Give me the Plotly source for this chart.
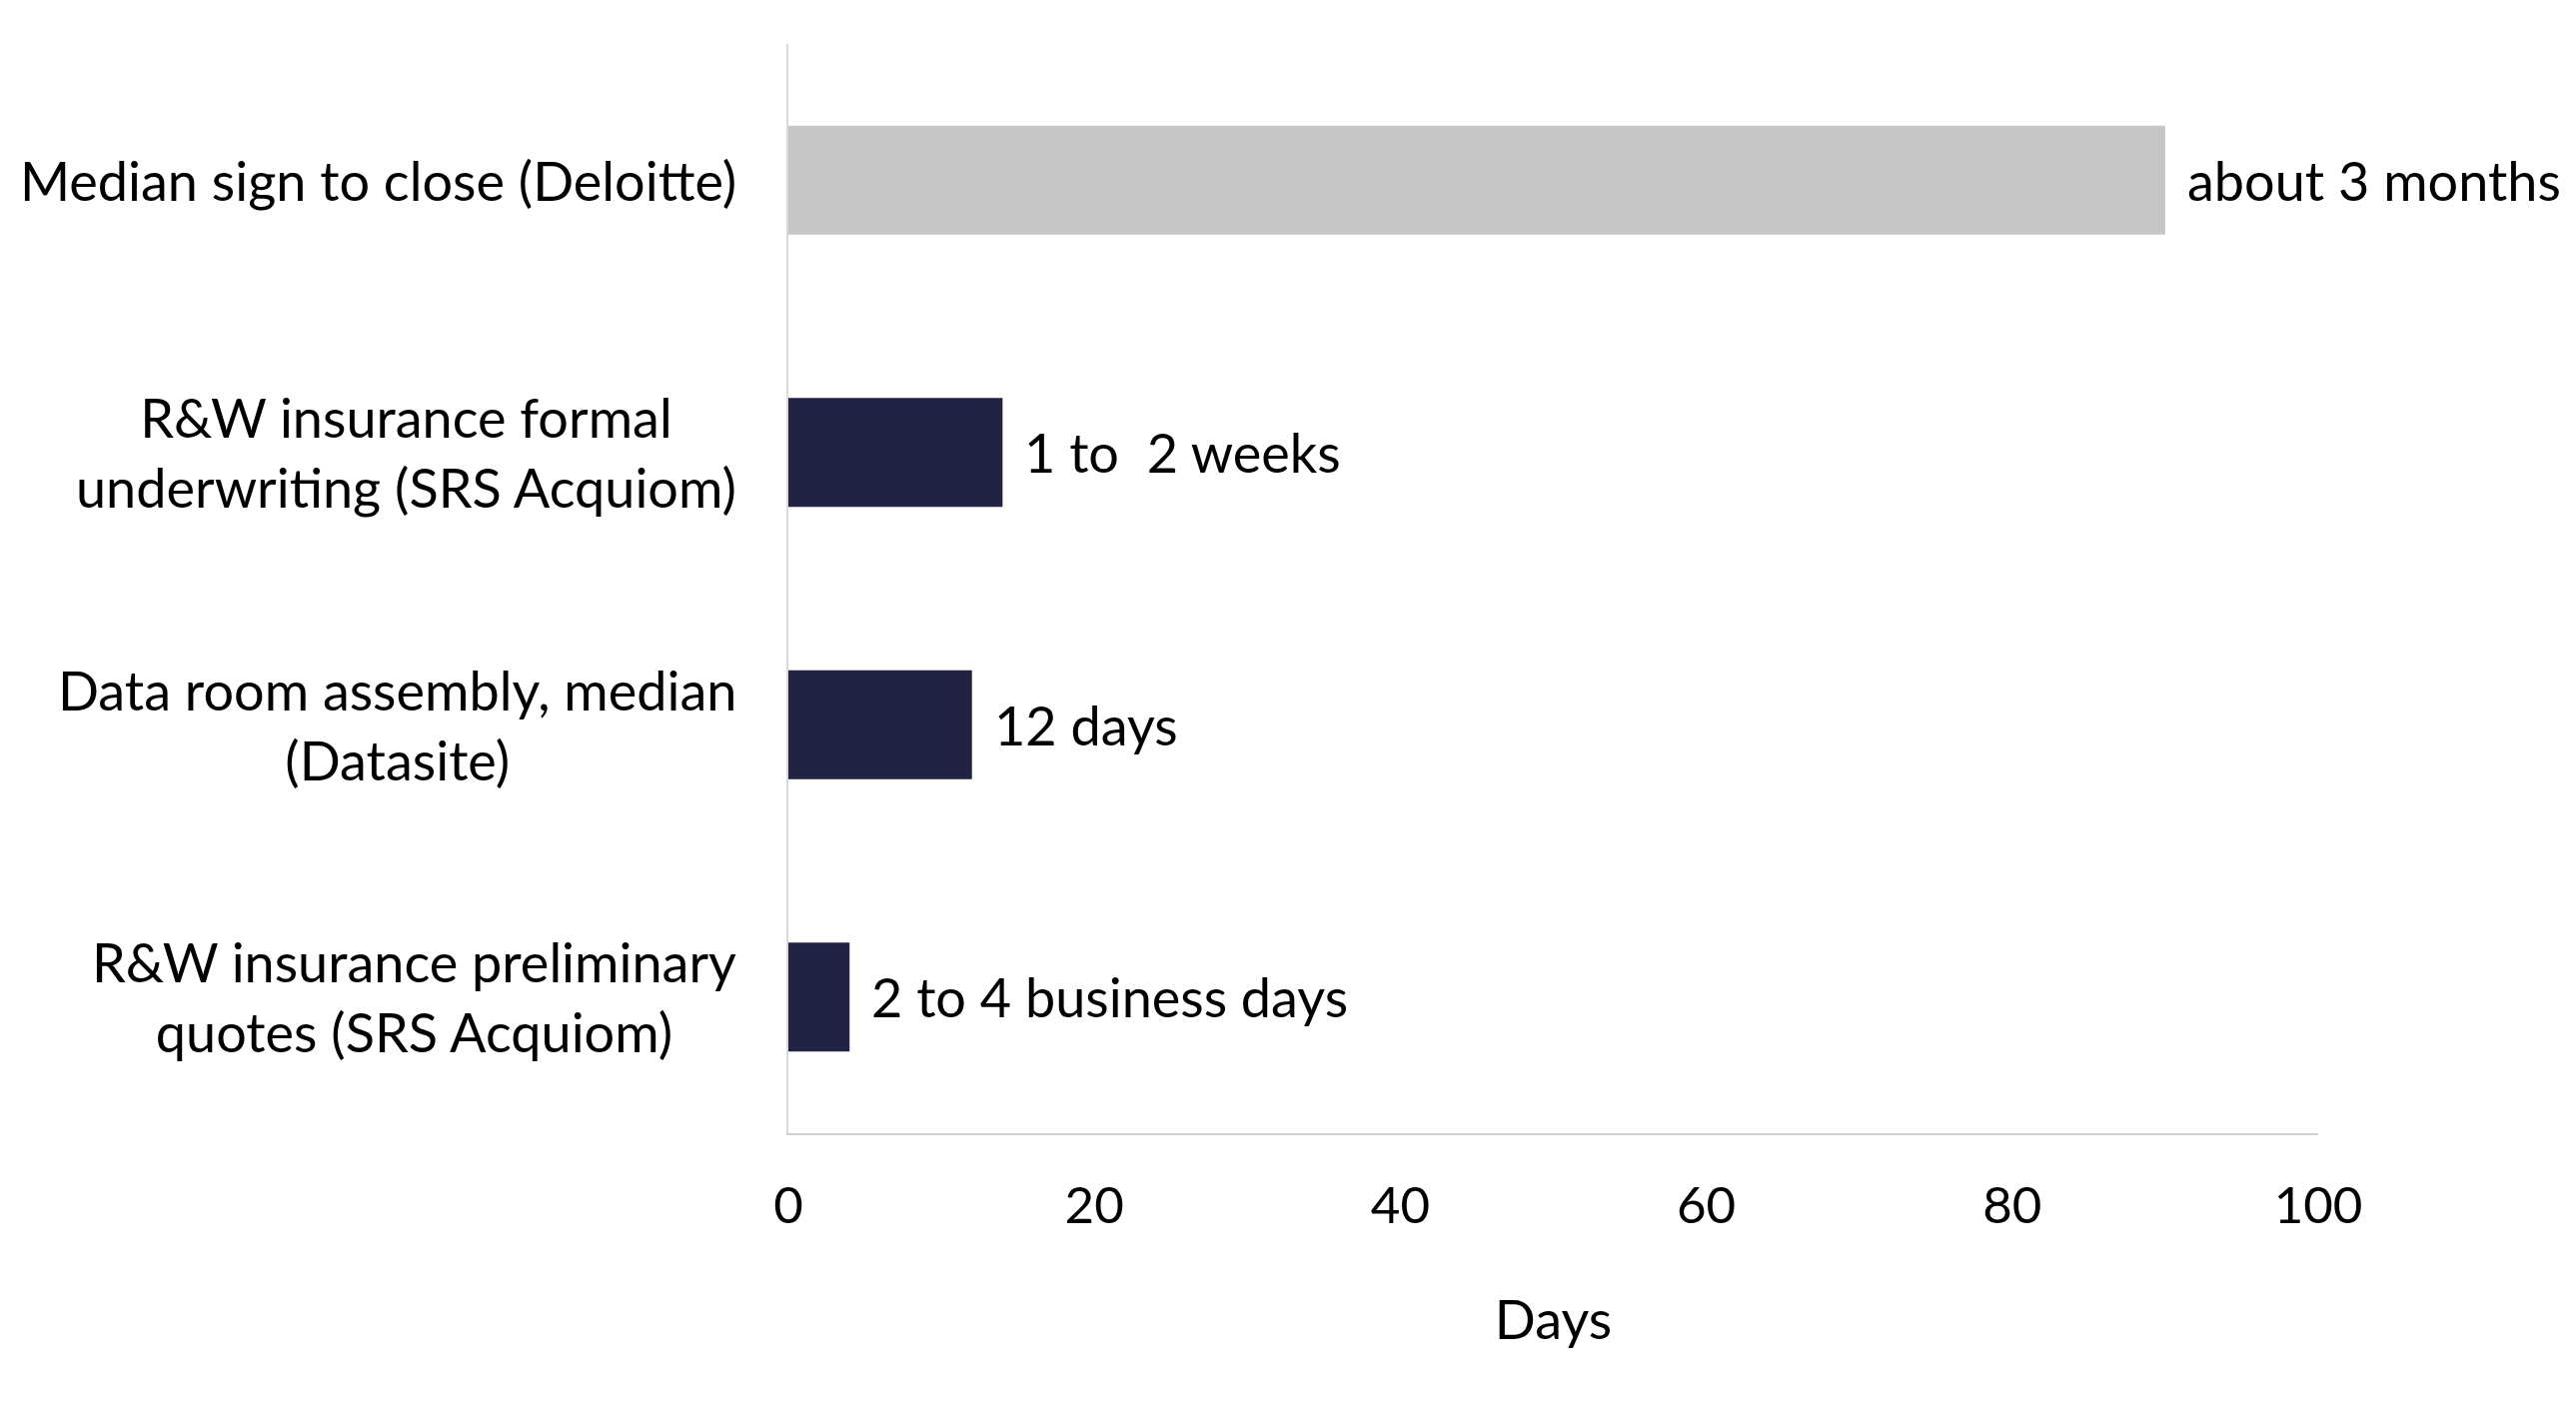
import plotly.graph_objects as go

categories = [
    "R&W insurance preliminary<br>quotes (SRS Acquiom)",
    "Data room assembly, median<br>(Datasite)",
    "R&W insurance formal<br>underwriting (SRS Acquiom)",
    "Median sign to close (Deloitte)",
]
values = [4, 12, 14, 90]
bar_labels = ["2 to 4 business days", "12 days", "1 to  2 weeks", "about 3 months"]
bar_colors = ["#222244", "#222244", "#222244", "#c6c6c6"]
x_ticks = [0, 20, 40, 60, 80, 100]

FONT = "Lato"
FS = 54

fig = go.Figure()
fig.add_trace(go.Bar(
    y=categories, x=values, orientation="h",
    marker=dict(color=bar_colors, line=dict(width=0)),
    width=0.4, hoverinfo="skip",
))

for c, v, t in zip(categories, values, bar_labels):
    fig.add_annotation(
        x=v, y=c, xref="x", yref="y", text=t.replace("  ", "&nbsp; "),
        showarrow=False, xanchor="left", xshift=20,
        font=dict(family=FONT, size=FS, color="#000000"),
    )
    fig.add_annotation(
        x=0, y=c, xref="paper", yref="y", text=c,
        showarrow=False, xanchor="right", xshift=-50, align="center",
        font=dict(family=FONT, size=FS, color="#000000"),
    )

fig.update_layout(
    width=2570, height=1404,
    margin=dict(l=781, r=258, t=36, b=278),
    paper_bgcolor="white", plot_bgcolor="white",
    showlegend=False,
    font=dict(family=FONT, size=FS, color="#000000"),
    xaxis=dict(
        range=[0, 100], tickvals=x_ticks, showgrid=False, zeroline=False,
        showline=True, linecolor="#d0d0d0", linewidth=2,
        ticks="", ticklabelstandoff=27,
        tickfont=dict(family=FONT, size=51, color="#000000"),
        title=dict(text="Days", font=dict(family=FONT, size=FS, color="#000000"), standoff=68),
    ),
    yaxis=dict(
        showticklabels=False, showgrid=False, zeroline=False,
        showline=True, linecolor="#d9d9d9", linewidth=2, ticks="",
        range=[-0.5, 3.5],
    ),
)

fig.write_html("out.html")
